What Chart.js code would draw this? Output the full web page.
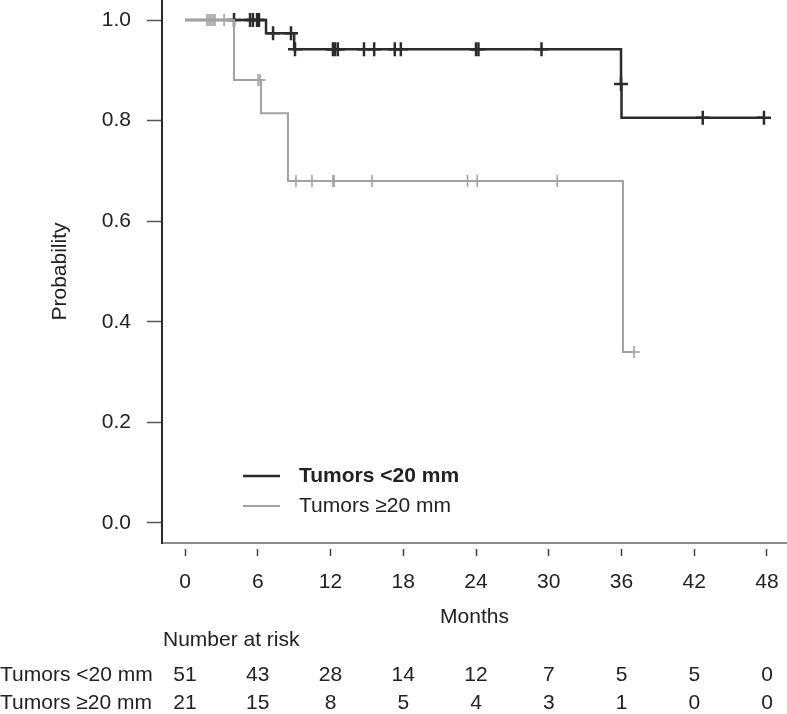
<!DOCTYPE html>
<html>
<head>
<meta charset="utf-8">
<script src="https://cdn.jsdelivr.net/npm/chart.js@4"></script>
<style>
html, body { margin: 0; padding: 0; background: #fff; }
#wrap { width: 787px; height: 714px; }
</style>
</head>
<body>
<div id="wrap"><canvas id="kmChart" width="787" height="714"></canvas></div>
<script>
const SERIES = ["Tumors <20 mm", "Tumors \u226520 mm"];
const MONTH_TICKS = [0, 6, 12, 18, 24, 30, 36, 42, 48];
const PROB_TICKS = [0, 0.2, 0.4, 0.6, 0.8, 1.0];

// step curves (time, survival after the step)
const smallT = [0, 6.68, 9.0, 35.96, 36.0, 47.75];
const smallS = [1, 0.974, 0.942, 0.873, 0.806, 0.806];
const largeT = [0, 4.04, 6.27, 8.49, 36.12, 37.03];
const largeS = [1, 0.881, 0.815, 0.680, 0.340, 0.340];

// censored cases
const smallCensT = [4.04, 5.36, 5.6, 5.94, 6.1, 7.26, 8.74, 9.07, 12.2, 12.37, 12.6, 14.76, 15.6, 17.3, 17.8, 24.0, 24.2, 29.4, 35.96, 42.7, 47.75];
const smallCensS = [1, 1, 1, 1, 1, 0.974, 0.974, 0.942, 0.942, 0.942, 0.942, 0.942, 0.942, 0.942, 0.942, 0.942, 0.942, 0.942, 0.873, 0.806, 0.806];
const largeCensT = [1.81, 1.98, 2.14, 2.31, 2.47, 3.22, 6.02, 6.19, 9.15, 10.47, 12.2, 12.29, 15.42, 23.3, 24.1, 30.7, 37.03];
const largeCensS = [1, 1, 1, 1, 1, 1, 0.881, 0.881, 0.680, 0.680, 0.680, 0.680, 0.680, 0.680, 0.680, 0.680, 0.340];

// number at risk at each month tick
const smallRisk = [51, 43, 28, 14, 12, 7, 5, 5, 0];
const largeRisk = [21, 15, 8, 5, 4, 3, 1, 0, 0];

const DARK = "#2b2b2b";
const GREY = "#a2a2a2";
const FONT = "'Liberation Sans', Arial, sans-serif";

const pts = (xs, ys) => xs.map((x, i) => ({ x: x, y: ys[i] }));

Chart.defaults.font.family = FONT;
Chart.defaults.font.size = 21;
Chart.defaults.color = "#222";

// no extra room for overflowing labels
function noPad(scale) {
    scale.paddingTop = 0;
    scale.paddingBottom = 0;
    scale.paddingLeft = 0;
    scale.paddingRight = 0;
}

// legend + number at risk table
const extras = {
    id: "extras",
    afterDraw(chart) {
        const ctx = chart.ctx;
        const xs = chart.scales.x;
        ctx.save();
        ctx.textBaseline = "middle";

        // legend
        ctx.lineCap = "butt";
        ctx.strokeStyle = DARK;
        ctx.lineWidth = 2.5;
        ctx.beginPath(); ctx.moveTo(243, 476); ctx.lineTo(280, 476); ctx.stroke();
        ctx.strokeStyle = GREY;
        ctx.lineWidth = 2;
        ctx.beginPath(); ctx.moveTo(243, 506); ctx.lineTo(280, 506); ctx.stroke();
        ctx.fillStyle = "#222";
        ctx.textAlign = "left";
        ctx.font = "bold 21px " + FONT;
        ctx.fillText(SERIES[0], 299, 476);
        ctx.font = "21px " + FONT;
        ctx.fillText(SERIES[1], 299, 506);

        // table
        ctx.fillText("Number at risk", 163, 640);
        ctx.fillText(SERIES[0], 0, 675);
        ctx.fillText(SERIES[1], 0, 703);
        ctx.textAlign = "center";
        MONTH_TICKS.forEach((m, i) => {
            const px = xs.getPixelForValue(m);
            ctx.fillText(String(smallRisk[i]), px, 675);
            ctx.fillText(String(largeRisk[i]), px, 703);
        });
        ctx.restore();
    }
};

new Chart(document.getElementById("kmChart"), {
    type: "line",
    data: {
        datasets: [
            {
                label: SERIES[1] + " censored",
                type: "scatter",
                data: pts(largeCensT, largeCensS),
                showLine: false,
                pointStyle: "cross",
                pointRadius: 6,
                borderColor: GREY,
                borderWidth: 1.6,
                order: 0
            },
            {
                label: SERIES[1],
                data: pts(largeT, largeS),
                stepped: "before",
                borderColor: GREY,
                borderWidth: 2,
                pointRadius: 0,
                fill: false,
                order: 1
            },
            {
                label: SERIES[0] + " censored",
                type: "scatter",
                data: pts(smallCensT, smallCensS),
                showLine: false,
                pointStyle: "cross",
                pointRadius: 7,
                borderColor: DARK,
                borderWidth: 2.5,
                order: 2
            },
            {
                label: SERIES[0],
                data: pts(smallT, smallS),
                stepped: "before",
                borderColor: DARK,
                borderWidth: 2.5,
                pointRadius: 0,
                fill: false,
                order: 3
            }
        ]
    },
    options: {
        responsive: false,
        animation: false,
        devicePixelRatio: 1,
        layout: { padding: 0, autoPadding: false },
        plugins: {
            legend: { display: false },
            tooltip: { enabled: false }
        },
        scales: {
            x: {
                type: "linear",
                min: -1.9,
                max: 49.65,
                afterFit(scale) { scale.height = 171; noPad(scale); },
                afterBuildTicks(scale) { scale.ticks = MONTH_TICKS.map(v => ({ value: v })); },
                ticks: { padding: 14, maxRotation: 0, autoSkip: false, color: "#222" },
                grid: {
                    drawOnChartArea: false,
                    drawTicks: true,
                    tickLength: 13,
                    tickColor: "#444",
                    tickWidth: 1.5,
                    tickBorderDash: [0, 5, 7, 100]
                },
                border: { color: "#8c8c8c", width: 2 },
                title: { display: true, text: "Months", color: "#222", padding: { top: 0, bottom: 84 } }
            },
            y: {
                type: "linear",
                min: -0.04,
                max: 1.04,
                afterFit(scale) { scale.width = 162; noPad(scale); },
                afterBuildTicks(scale) { scale.ticks = PROB_TICKS.map(v => ({ value: v })); },
                ticks: { padding: 16, color: "#222", callback: v => v.toFixed(1) },
                grid: {
                    drawOnChartArea: false,
                    drawTicks: true,
                    tickLength: 15,
                    tickColor: "#555",
                    tickWidth: 1.5
                },
                border: { color: DARK, width: 2 },
                title: { display: true, text: "Probability", color: "#222", padding: { top: 48, bottom: 0 } }
            }
        }
    },
    plugins: [extras]
});
</script>
</body>
</html>
